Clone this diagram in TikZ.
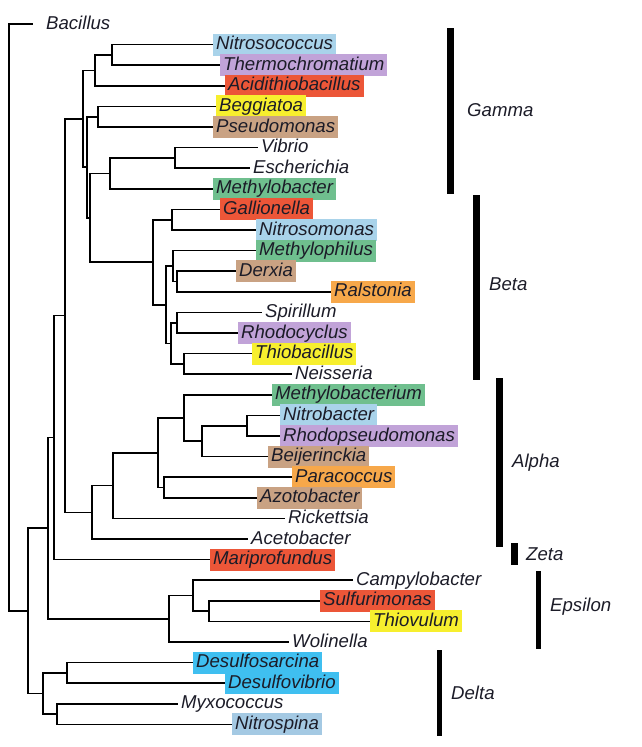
\documentclass[tikz,border=0pt]{standalone}
\usepackage{fontspec}
\setmainfont{Liberation Sans}
\definecolor{hlblue}{HTML}{A9D3EA}
\definecolor{hlpurple}{HTML}{C1A3D8}
\definecolor{hlred}{HTML}{EC5638}
\definecolor{hlyellow}{HTML}{F7EF2E}
\definecolor{hltan}{HTML}{C9A283}
\definecolor{hlgreen}{HTML}{6FBF8E}
\definecolor{hlorange}{HTML}{F7A84A}
\definecolor{hlcyan}{HTML}{3FBFF0}
\definecolor{hlsteel}{HTML}{A4C9E3}
\definecolor{inkdark}{HTML}{1C1C28}
\tikzset{
  leaf/.style={ % style for the genus names at the tips
    anchor=west, % the branch meets the left side of the name
    font=\fontsize{18.6pt}{20pt}\selectfont\itshape, % italic genus names
    text=inkdark, % nearly black text
    inner xsep=3pt, % a little room left and right
    inner ysep=1pt, % and almost none above and below
    text height=15pt, % fixed height so that all boxes are equal
    text depth=5pt, % fixed depth for the same reason
  },
  hl/.style={ % coloured box behind a name
    leaf, % inherit the leaf style
    fill=#1, % fill with the given colour
  },
  branch/.style={ % style for the branches of the tree
    draw, % drawn as a line
    line width=1.6pt, % a bit heavier than default
    to path={|- (\tikztotarget)}, % down or up first, then across
  },
  bar/.style={ % style for the clade bars
    fill=black, % solid black
  },
  clade/.style={ % style for the clade names
    anchor=base west, % placed on the baseline
    inner sep=0pt, % no padding
    font=\fontsize{18.6pt}{20pt}\selectfont\itshape, % same face as the tips
    text=inkdark,
  },
}
\begin{document}
\begin{tikzpicture}[x=1pt, y=-1pt]
	\useasboundingbox (0,0) rectangle (641,747);

	% tips
	\node[leaf] (bacillus) at (43,24) {Bacillus};
	\node[hl=hlblue] (nitrosococcus) at (213,44.6) {Nitrosococcus};
	\node[hl=hlpurple] (thermochromatium) at (220,65.2) {Thermochromatium};
	\node[hl=hlred] (acidithiobacillus) at (225,85.8) {Acidithiobacillus};
	\node[hl=hlyellow] (beggiatoa) at (216,106.4) {Beggiatoa};
	\node[hl=hltan] (pseudomonas) at (213,127) {Pseudomonas};
	\node[leaf] (vibrio) at (258,147.6) {Vibrio};
	\node[leaf] (escherichia) at (250,168.2) {Escherichia};
	\node[hl=hlgreen] (methylobacter) at (213,188.8) {Methylobacter};
	\node[hl=hlred] (gallionella) at (220,209.4) {Gallionella};
	\node[hl=hlblue] (nitrosomonas) at (256,230) {Nitrosomonas};
	\node[hl=hlgreen] (methylophilus) at (256,250.6) {Methylophilus};
	\node[hl=hltan] (derxia) at (236,271.2) {Derxia};
	\node[hl=hlorange] (ralstonia) at (331,291.8) {Ralstonia};
	\node[leaf] (spirillum) at (262,312.4) {Spirillum};
	\node[hl=hlpurple] (rhodocyclus) at (238,333) {Rhodocyclus};
	\node[hl=hlyellow] (thiobacillus) at (252,353.6) {Thiobacillus};
	\node[leaf] (neisseria) at (292,374.2) {Neisseria};
	\node[hl=hlgreen] (methylobacterium) at (272,394.8) {Methylobacterium};
	\node[hl=hlblue] (nitrobacter) at (280,415.4) {Nitrobacter};
	\node[hl=hlpurple] (rhodopseudomonas) at (280,436) {Rhodopseudomonas};
	\node[hl=hltan] (beijerinckia) at (268,456.6) {Beijerinckia};
	\node[hl=hlorange] (paracoccus) at (292,477.2) {Paracoccus};
	\node[hl=hltan] (azotobacter) at (257,497.8) {Azotobacter};
	\node[leaf] (rickettsia) at (285,518.4) {Rickettsia};
	\node[leaf] (acetobacter) at (248,539) {Acetobacter};
	\node[hl=hlred] (mariprofundus) at (210,559.6) {Mariprofundus};
	\node[leaf] (campylobacter) at (353,580.2) {Campylobacter};
	\node[hl=hlred] (sulfurimonas) at (320,600.8) {Sulfurimonas};
	\node[hl=hlyellow] (thiovulum) at (370,621.4) {Thiovulum};
	\node[leaf] (wolinella) at (289,642) {Wolinella};
	\node[hl=hlcyan] (desulfosarcina) at (193,662.6) {Desulfosarcina};
	\node[hl=hlcyan] (desulfovibrio) at (225,683.2) {Desulfovibrio};
	\node[leaf] (myxococcus) at (178,703.8) {Myxococcus};
	\node[hl=hlsteel] (nitrospina) at (232,724.4) {Nitrospina};

	% inner nodes of the tree
	\coordinate (g1) at (112,54.9);
	\coordinate (g2) at (95,70.35);
	\coordinate (g3) at (98,116.7);
	\coordinate (g4) at (175,157.9);
	\coordinate (g5) at (110,173.35);
	\coordinate (b1) at (172,219.7);
	\coordinate (b2) at (177,281.5);
	\coordinate (b3) at (173,266.05);
	\coordinate (b4) at (177,322.7);
	\coordinate (b5) at (184,363.9);
	\coordinate (b6) at (171,343.3);
	\coordinate (b7) at (166,304.7);
	\coordinate (b8) at (153,262.2);
	\coordinate (g6) at (90,217.8);
	\coordinate (g7) at (87,167.25);
	\coordinate (g8) at (83,118.8);
	\coordinate (a1) at (247,425.7);
	\coordinate (a2) at (202,441.15);
	\coordinate (a3) at (184,418);
	\coordinate (a4) at (164,487.5);
	\coordinate (a5) at (158,452.75);
	\coordinate (a6) at (113,485.6);
	\coordinate (a7) at (92,512.3);
	\coordinate (p1) at (65,315.55);
	\coordinate (p2) at (54,437.6);
	\coordinate (e1) at (209,611.1);
	\coordinate (e2) at (193,595.65);
	\coordinate (e3) at (169,618.8);
	\coordinate (p3) at (48,528.2);
	\coordinate (d1) at (67,672.9);
	\coordinate (d2) at (57,714.1);
	\coordinate (d3) at (43,693.5);
	\coordinate (p4) at (28,610.85);
	\coordinate (root) at (9,317.4);

	% branches
	\path	(g1)	edge[branch] (nitrosococcus.west)
					edge[branch] (thermochromatium.west)
			(g2)	edge[branch] (g1)
					edge[branch] (acidithiobacillus.west)
			(g3)	edge[branch] (beggiatoa.west)
					edge[branch] (pseudomonas.west)
			(g4)	edge[branch] (vibrio.west)
					edge[branch] (escherichia.west)
			(g5)	edge[branch] (g4)
					edge[branch] (methylobacter.west)
			(b1)	edge[branch] (gallionella.west)
					edge[branch] (nitrosomonas.west)
			(b2)	edge[branch] (derxia.west)
					edge[branch] (ralstonia.west)
			(b3)	edge[branch] (methylophilus.west)
					edge[branch] (b2)
			(b4)	edge[branch] (spirillum.west)
					edge[branch] (rhodocyclus.west)
			(b5)	edge[branch] (thiobacillus.west)
					edge[branch] (neisseria.west)
			(b6)	edge[branch] (b4)
					edge[branch] (b5)
			(b7)	edge[branch] (b3)
					edge[branch] (b6)
			(b8)	edge[branch] (b1)
					edge[branch] (b7)
			(g6)	edge[branch] (g5)
					edge[branch] (b8)
			(g7)	edge[branch] (g3)
					edge[branch] (g6)
			(g8)	edge[branch] (g2)
					edge[branch] (g7);
	\path	(a1)	edge[branch] (nitrobacter.west)
					edge[branch] (rhodopseudomonas.west)
			(a2)	edge[branch] (a1)
					edge[branch] (beijerinckia.west)
			(a3)	edge[branch] (methylobacterium.west)
					edge[branch] (a2)
			(a4)	edge[branch] (paracoccus.west)
					edge[branch] (azotobacter.west)
			(a5)	edge[branch] (a3)
					edge[branch] (a4)
			(a6)	edge[branch] (a5)
					edge[branch] (rickettsia.west)
			(a7)	edge[branch] (a6)
					edge[branch] (acetobacter.west)
			(p1)	edge[branch] (g8)
					edge[branch] (a7)
			(p2)	edge[branch] (p1)
					edge[branch] (mariprofundus.west);
	\path	(e1)	edge[branch] (sulfurimonas.west)
					edge[branch] (thiovulum.west)
			(e2)	edge[branch] (campylobacter.west)
					edge[branch] (e1)
			(e3)	edge[branch] (e2)
					edge[branch] (wolinella.west)
			(p3)	edge[branch] (p2)
					edge[branch] (e3)
			(d1)	edge[branch] (desulfosarcina.west)
					edge[branch] (desulfovibrio.west)
			(d2)	edge[branch] (myxococcus.west)
					edge[branch] (nitrospina.west)
			(d3)	edge[branch] (d1)
					edge[branch] (d2)
			(p4)	edge[branch] (p3)
					edge[branch] (d3)
			(root)	edge[branch] ([xshift=-10pt]bacillus.west)
					edge[branch] (p4);

	% clade bars and names
	\path[bar] (447,28) rectangle (454,194);
	\node[clade] (gamma) at (467,116) {Gamma};
	\path[bar] (473,195) rectangle (480,380);
	\node[clade] (beta) at (489,290) {Beta};
	\path[bar] (496,378) rectangle (503,547);
	\node[clade] (alpha) at (512,467) {Alpha};
	\path[bar] (511,543) rectangle (518,565);
	\node[clade] (zeta) at (526,560) {Zeta};
	\path[bar] (536,571) rectangle (541,649);
	\node[clade] (epsilon) at (550,611) {Epsilon};
	\path[bar] (437,650) rectangle (442,736);
	\node[clade] (delta) at (451,699) {Delta};
\end{tikzpicture}
\end{document}
